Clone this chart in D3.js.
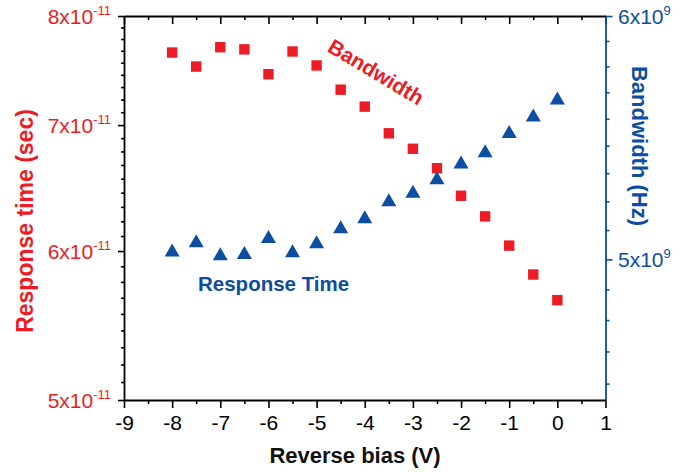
<!DOCTYPE html>
<html>
<head>
<meta charset="utf-8">
<script src="https://cdn.jsdelivr.net/npm/d3@7/dist/d3.min.js"></script>
<style>
  body { margin: 0; background: #fff; }
  svg { display: block; }
  text { font-family: "Liberation Sans", Arial, sans-serif; }
</style>
</head>
<body>
<svg id="chart" width="694" height="474"></svg>
<script>
"use strict";

// reverse bias (V)
const biasV = [-8, -7.5, -7, -6.5, -6, -5.5, -5, -4.5, -4, -3.5, -3, -2.5, -2, -1.5, -1, -0.5, 0];
// red squares, left axis (sec)
const responseTime = [7.65e-11, 7.52e-11, 7.70e-11, 7.68e-11, 7.45e-11, 7.66e-11, 7.53e-11, 7.31e-11,
    7.16e-11, 6.93e-11, 6.80e-11, 6.64e-11, 6.42e-11, 6.26e-11, 6.04e-11, 5.83e-11, 5.65e-11];
// blue triangles, right axis (Hz)
const bandwidth = [5.035e9, 5.070e9, 5.021e9, 5.026e9, 5.086e9, 5.032e9, 5.066e9, 5.124e9,
    5.162e9, 5.228e9, 5.262e9, 5.315e9, 5.378e9, 5.424e9, 5.503e9, 5.571e9, 5.643e9];

const xTicks = [-9, -8, -7, -6, -5, -4, -3, -2, -1, 0, 1];
const leftMantissa = [5, 6, 7, 8];
const leftExp = -11;
const rightMantissa = [5, 6];
const rightExp = 9;

const RED = "#ed1c24",
    BLUE = "#0b4ea2",
    pLeft = 124, pRight = 605.5, pTop = 16, pBottom = 400;

const svg = d3.select("#chart");

const x = d3.scaleLinear().domain([-9, 1]).range([pLeft, pRight]);
const yL = d3.scaleLog().domain([5e-11, 8e-11]).range([pBottom, pTop]);
const yR = d3.scaleLog().domain([4.5e9, 6e9]).range([pBottom, pTop]);

// 8 minor ticks between majors, evenly in value
function minors(majors, scale, lo, hi) {
    const out = [];
    for (let i = 0; i < majors.length - 1; i++) {
        const a = majors[i] * scale, b = majors[i + 1] * scale;
        for (let k = 1; k < 9; k++) out.push(a + (b - a) * k / 9);
    }
    // below the lowest major
    const step = (majors[1] - majors[0]) * scale / 9;
    for (let v = majors[0] * scale - step; v > lo; v -= step) out.push(v);
    return out.filter(v => v >= lo && v <= hi);
}

const leftMajors = leftMantissa.map(m => m * Math.pow(10, leftExp));
const rightMajors = rightMantissa.map(m => m * Math.pow(10, rightExp));
const leftMinors = minors(leftMantissa, Math.pow(10, leftExp), 5e-11, 8e-11);
const rightMinors = minors(rightMantissa, Math.pow(10, rightExp), 4.5e9, 6e9);
const xMinors = d3.range(-8.5, 1, 1);

function style(g, color) {
    g.select(".domain").attr("stroke", color).attr("stroke-width", 1.8);
    g.selectAll(".tick line").attr("stroke", color).attr("stroke-width", 1.6);
    return g;
}

// bottom axis
const gb = svg.append("g").attr("transform", `translate(0,${pBottom})`)
    .call(d3.axisBottom(x).tickValues(xTicks).tickSize(8).tickSizeOuter(0)
        .tickPadding(7).tickFormat(d => String(d)));
style(gb, "#000");
gb.selectAll(".tick text").attr("font-size", 21).attr("fill", "#000")
    .attr("font-family", "Liberation Sans, Arial, sans-serif");
style(svg.append("g").attr("transform", `translate(0,${pBottom})`)
    .call(d3.axisBottom(x).tickValues(xMinors).tickSize(4).tickFormat("")), "#000")
    .select(".domain").remove();

// top axis, inward ticks
style(svg.append("g").attr("transform", `translate(0,${pTop})`)
    .call(d3.axisTop(x).tickValues(xTicks).tickSize(-8).tickSizeOuter(0).tickFormat("")), "#000");
style(svg.append("g").attr("transform", `translate(0,${pTop})`)
    .call(d3.axisTop(x).tickValues(xMinors).tickSize(-4).tickFormat("")), "#000")
    .select(".domain").remove();

// left axis
style(svg.append("g").attr("transform", `translate(${pLeft},0)`)
    .call(d3.axisLeft(yL).tickValues(leftMajors).tickSize(6).tickSizeOuter(0).tickFormat("")), "#000");
style(svg.append("g").attr("transform", `translate(${pLeft},0)`)
    .call(d3.axisLeft(yL).tickValues(leftMinors).tickSize(3).tickFormat("")), "#000")
    .select(".domain").remove();

// right axis
style(svg.append("g").attr("transform", `translate(${pRight},0)`)
    .call(d3.axisRight(yR).tickValues(rightMajors).tickSize(7).tickSizeOuter(0).tickFormat("")), BLUE);
style(svg.append("g").attr("transform", `translate(${pRight},0)`)
    .call(d3.axisRight(yR).tickValues(rightMinors).tickSize(4).tickFormat("")), BLUE)
    .select(".domain").remove();

// power-of-ten labels
function powLabel(sel, mant, exp, anchor) {
    sel.append("tspan").text(`${mant}x10`);
    sel.append("tspan").attr("font-size", 13).attr("dy", -9).text(exp);
    sel.attr("text-anchor", anchor);
}
leftMantissa.forEach((m, i) => {
    svg.append("text").attr("x", 111).attr("y", yL(leftMajors[i]) + 8)
        .attr("font-size", 21).attr("fill", RED)
        .call(powLabel, m, String(leftExp), "end");
});
rightMantissa.forEach((m, i) => {
    svg.append("text").attr("x", 618).attr("y", yR(rightMajors[i]) + 8)
        .attr("font-size", 21).attr("fill", BLUE)
        .call(powLabel, m, String(rightExp), "start");
});

// axis titles
svg.append("text").attr("transform", `translate(33,221) rotate(-90)`)
    .attr("text-anchor", "middle").attr("font-size", 23).attr("font-weight", "bold")
    .attr("fill", RED).text("Response time (sec)");
svg.append("text").attr("transform", `translate(632,146) rotate(90)`)
    .attr("text-anchor", "middle").attr("font-size", 22).attr("font-weight", "bold")
    .attr("fill", BLUE).text("Bandwidth (Hz)");
svg.append("text").attr("x", 355).attr("y", 463)
    .attr("text-anchor", "middle").attr("font-size", 22).attr("font-weight", "bold")
    .attr("fill", "#111").text("Reverse bias (V)");

// data marks
const sq = 10.4;
svg.append("g").selectAll("rect")
    .data(biasV.map((v, i) => [v, responseTime[i]]))
    .join("rect")
    .attr("x", d => x(d[0]) - sq / 2)
    .attr("y", d => yL(d[1]) - sq / 2)
    .attr("width", sq).attr("height", sq)
    .attr("fill", RED);

const tw = 15, th = 13;
svg.append("g").selectAll("path")
    .data(biasV.map((v, i) => [v, bandwidth[i]]))
    .join("path")
    .attr("transform", d => `translate(${x(d[0])},${yR(d[1])})`)
    .attr("d", `M0,${-th / 2}L${tw / 2},${th / 2}L${-tw / 2},${th / 2}Z`)
    .attr("fill", BLUE);

// annotations
svg.append("text").attr("transform", "translate(376,72) rotate(31)")
    .attr("text-anchor", "middle").attr("dy", "0.35em")
    .attr("font-size", 21).attr("font-weight", "bold").attr("fill", RED)
    .text("Bandwidth");
svg.append("text").attr("x", 198).attr("y", 291)
    .attr("font-size", 20.5).attr("font-weight", "bold").attr("fill", BLUE)
    .text("Response Time");
</script>
</body>
</html>
